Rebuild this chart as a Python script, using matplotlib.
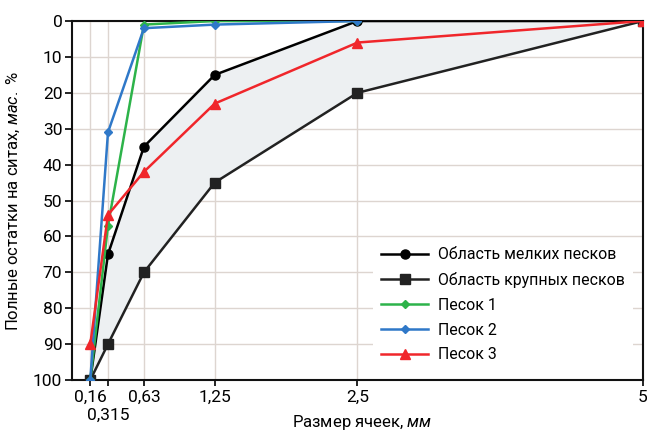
import matplotlib
matplotlib.use("Agg")
import matplotlib.pyplot as plt
from matplotlib.transforms import blended_transform_factory

plt.rcParams['font.family'] = ['Roboto', 'DejaVu Sans']
plt.rcParams['mathtext.fontset'] = 'custom'
plt.rcParams['mathtext.rm'] = 'Roboto'
plt.rcParams['mathtext.it'] = 'Roboto:italic'

sizes = [0.16, 0.315, 0.63, 1.25, 2.5, 5]
size_labels = ["0,16", "0,315", "0,63", "1,25", "2,5", "5"]

fine = [100, 65, 35, 15, 0, 0]
coarse = [100, 90, 70, 45, 20, 0]

sand_x = [0.16, 0.315, 0.63, 1.25, 2.5]
sand1 = [100, 57, 1, 0, 0]
sand2 = [100, 31, 2, 1, 0]
sand3_x = [0.16, 0.315, 0.63, 1.25, 2.5, 5]
sand3 = [90, 54, 42, 23, 6, 0]

names = ["Область мелких песков", "Область крупных песков", "Песок 1", "Песок 2", "Песок 3"]

fig = plt.figure(figsize=(6.47, 4.34), dpi=100)
ax = fig.add_axes([0.1113, 0.1244, 0.8825, 0.8272])

ax.fill_between(sizes, fine, coarse, color='#edf0f2', zorder=1, linewidth=0)

ax.plot(sizes, fine, color='black', lw=1.8, marker='o', ms=6.5, label=names[0], zorder=4)
ax.plot(sizes, coarse, color='#222222', lw=1.8, marker='s', ms=6.5, label=names[1], zorder=4)
ax.plot(sand_x, sand1, color='#2db34a', lw=1.8, marker='D', ms=4, label=names[2], zorder=5)
ax.plot(sand_x, sand2, color='#2f78c8', lw=1.8, marker='D', ms=4, label=names[3], zorder=5)
ax.plot(sand3_x, sand3, color='#f0262b', lw=1.8, marker='^', ms=6.5, label=names[4], zorder=6)

ax.set_xlim(0, 5)
ax.set_ylim(100, 0)
ax.set_xticks(sizes)
labels_main = [lab if i != 1 else "" for i, lab in enumerate(size_labels)]
ax.set_xticklabels(labels_main, fontsize=12.5)
trans = blended_transform_factory(ax.transData, fig.transFigure)
ax.text(sizes[1], 1 - 415 / 434, size_labels[1], transform=trans, ha='center', va='center', fontsize=12.5)
ax.set_yticks(range(0, 101, 10))
ax.tick_params(axis='y', labelsize=12.5, length=5, width=1.2, pad=2)
ax.tick_params(axis='x', length=4, width=1.2, pad=3)

ax.grid(True, color='#ddd5d0', lw=1.0, zorder=0)
ax.set_axisbelow(True)
for s in ax.spines.values():
    s.set_color('#111111')
    s.set_linewidth(1.5)

fig.text(362 / 647, 1 - 423 / 434, "Размер ячеек, $\\it{мм}$", fontsize=12, ha='center', va='center')
ax.set_ylabel("Полные остатки на ситах, $\\it{мас.}$ %", fontsize=12, labelpad=8)

leg = ax.legend(loc='lower right', fontsize=11.4, handlelength=3.0, frameon=True,
                fancybox=False, edgecolor='none', facecolor='white', framealpha=1,
                borderpad=0.5, labelspacing=0.62, handletextpad=0.6,
                bbox_to_anchor=(0.996, 0.005))

fig.savefig("out.png", dpi=100)
